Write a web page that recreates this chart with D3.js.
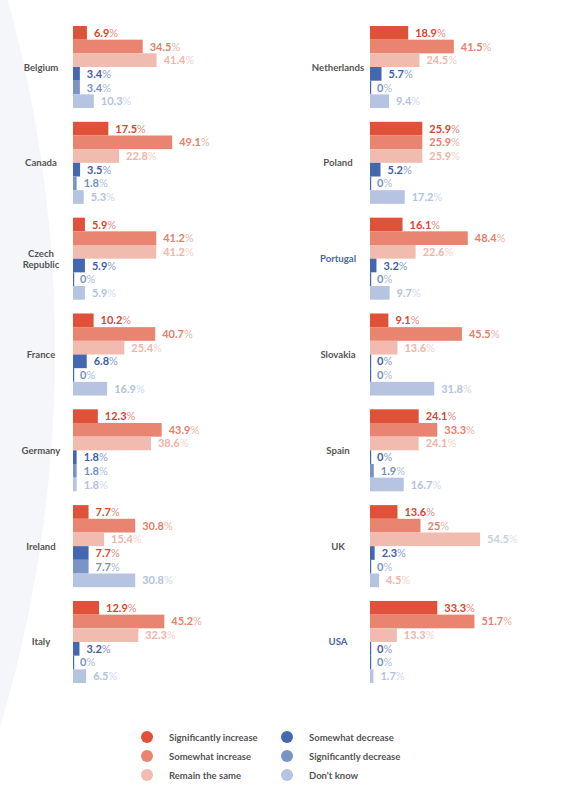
<!DOCTYPE html>
<html>
<head>
<meta charset="utf-8">
<script src="https://cdn.jsdelivr.net/npm/d3@7"></script>
<style>
  html, body { margin: 0; padding: 0; background: #fff; }
  svg { display: block; font-family: Lato, "Open Sans", sans-serif; }
</style>
</head>
<body>
<svg id="chart" width="569" height="799"></svg>
<script>
// answer categories (one bar each, top to bottom)
const responses = [
  'Significantly increase', 'Somewhat increase', 'Remain the same',
  'Somewhat decrease', 'Significantly decrease', "Don't know"
];

const leftCountries = ['Belgium', 'Canada', 'Czech Republic', 'France', 'Germany', 'Ireland', 'Italy'];
const leftValues = [
  [6.9, 34.5, 41.4, 3.4, 3.4, 10.3],
  [17.5, 49.1, 22.8, 3.5, 1.8, 5.3],
  [5.9, 41.2, 41.2, 5.9, 0, 5.9],
  [10.2, 40.7, 25.4, 6.8, 0, 16.9],
  [12.3, 43.9, 38.6, 1.8, 1.8, 1.8],
  [7.7, 30.8, 15.4, 7.7, 7.7, 30.8],
  [12.9, 45.2, 32.3, 3.2, 0, 6.5]
];

const rightCountries = ['Netherlands', 'Poland', 'Portugal', 'Slovakia', 'Spain', 'UK', 'USA'];
const rightValues = [
  [18.9, 41.5, 24.5, 5.7, 0, 9.4],
  [25.9, 25.9, 25.9, 5.2, 0, 17.2],
  [16.1, 48.4, 22.6, 3.2, 0, 9.7],
  [9.1, 45.5, 13.6, 0, 0, 31.8],
  [24.1, 33.3, 24.1, 0, 1.9, 16.7],
  [13.6, 25, 54.5, 2.3, 0, 4.5],
  [33.3, 51.7, 13.3, 0, 0, 1.7]
];

// countries whose name is printed in blue
const highlighted = ['Portugal', 'USA'];

const barColors = ['#e0513a', '#e8846f', '#f2bbb0', '#4468b0', '#7b94c6', '#b6c4e1'];
const labelColors = ['#d9452d', '#e47f6b', '#f0b4a7', '#3f5fa6', '#7790c4', '#b3c2df'];
// a few labels in the original use another colour
const labelOverrides = { 'Ireland-3': '#d9452d', 'UK-2': '#c4d3da', 'UK-5': '#f0b4a7' };

const svg = d3.select('#chart');

// faint background shape on the left edge
svg.append('circle')
  .attr('cx', -1267).attr('cy', 350).attr('r', 1322)
  .attr('fill', '#f4f6f9');

const x = d3.scaleLinear().domain([0, 100]).range([0, 202]);

const groupY = d3.scaleBand()
  .domain(d3.range(7))
  .range([26, 683])
  .paddingInner(0.144);

const barY = d3.scaleBand()
  .domain(d3.range(responses.length))
  .range([0, groupY.bandwidth()]);

function panel (countries, values, x0, labelX) {
  const g = svg.append('g').attr('transform', `translate(${ x0 },0)`);

  const groups = g.selectAll('g.country')
    .data(countries)
    .enter()
    .append('g')
    .attr('class', 'country')
    .attr('transform', (d, i) => `translate(0,${ groupY(i) })`);

  // country name
  groups.append('text')
    .attr('x', labelX - x0)
    .attr('y', groupY.bandwidth() / 2)
    .attr('text-anchor', 'middle')
    .attr('font-size', 9.6)
    .attr('font-weight', 700)
    .attr('fill', d => highlighted.includes(d) ? '#4866ad' : '#555')
    .each(function (d) {
      const words = d === 'Czech Republic' ? ['Czech', 'Republic'] : [d];
      const t = d3.select(this);
      words.forEach((w, k) => {
        t.append('tspan')
          .attr('x', labelX - x0)
          .attr('dy', k === 0 ? (3.5 - (words.length - 1) * 5.5) : 11)
          .text(w);
      });
    });

  const bars = groups.selectAll('g.bar')
    .data((d, i) => values[i].map((v, j) => ({ country: d, v, j })))
    .enter()
    .append('g')
    .attr('class', 'bar');

  bars.append('rect')
    .attr('x', 0)
    .attr('y', d => barY(d.j))
    .attr('width', d => Math.max(x(d.v), 1.2))
    .attr('height', barY.bandwidth())
    .attr('fill', d => d.v === 0 ? barColors[3] : barColors[d.j]);

  const lbl = bars.append('text')
    .attr('x', d => x(d.v) + 7)
    .attr('y', d => barY(d.j) + barY.bandwidth() / 2 + 4)
    .attr('font-size', 11)
    .attr('fill', d => labelOverrides[`${ d.country }-${ d.j }`] || labelColors[d.j]);

  lbl.append('tspan')
    .attr('font-weight', 700)
    .text(d => d.v);
  lbl.append('tspan')
    .attr('font-weight', 400)
    .attr('fill-opacity', 0.65)
    .text('%');
}

panel(leftCountries, leftValues, 73, 41);
panel(rightCountries, rightValues, 370, 338);

// legend
const legend = svg.append('g')
  .selectAll('g')
  .data(responses)
  .enter()
  .append('g')
  .attr('transform', (d, i) => `translate(${ i < 3 ? 147 : 287 },${ 737 + (i % 3) * 19 })`);

legend.append('circle')
  .attr('r', 6)
  .attr('fill', (d, i) => barColors[i]);

legend.append('text')
  .attr('x', 22)
  .attr('y', 3.5)
  .attr('font-size', 9.5)
  .attr('font-weight', 700)
  .attr('fill', '#555')
  .text(d => d);
</script>
</body>
</html>
